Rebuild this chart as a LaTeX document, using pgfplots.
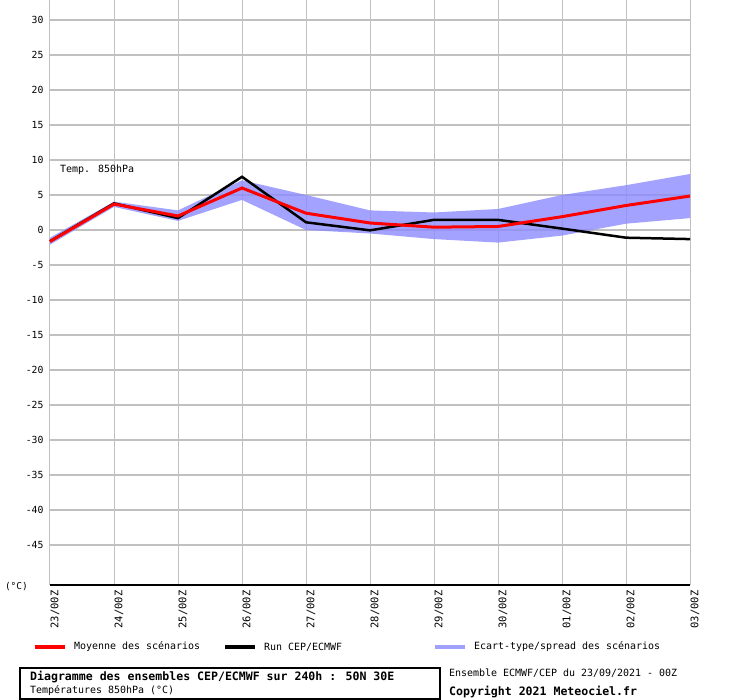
\documentclass[border=0pt]{standalone}
\usepackage{pgfplots}
\pgfplotsset{compat=1.18}
\usepgfplotslibrary{fillbetween}
\usepackage{fontspec}
\setmainfont{DejaVu Sans Mono}
\definecolor{gridgray}{RGB}{192,192,192}
\definecolor{zerogray}{RGB}{128,128,128}
\definecolor{bandblue}{RGB}{140,140,255}
\definecolor{legblue}{RGB}{160,160,255}
\begin{document}
\begin{tikzpicture}
\begin{axis}[
  at={(0,0)}, anchor=south west,
  scale only axis, width=640bp, height=585bp,
  xmin=0, xmax=10, ymin=-50.714, ymax=32.857,
  axis line style={draw=none},
  xtick={0,1,2,3,4,5,6,7,8,9,10},
  xticklabels={23/00Z,24/00Z,25/00Z,26/00Z,27/00Z,28/00Z,29/00Z,30/00Z,01/00Z,02/00Z,03/00Z},
  ytick={-45,-40,-35,-30,-25,-20,-15,-10,-5,0,5,10,15,20,25,30},
  yticklabels={-45,-40,-35,-30,-25,-20,-15,-10,-5,0,5,10,15,20,25,30},
  major tick length=0pt,
  grid=major,
  x grid style={gridgray, line width=1bp},
  y grid style={gridgray, line width=2bp},
  extra y ticks={0}, extra y tick labels={},
  extra y tick style={grid style={zerogray, line width=2bp}},
  tick label style={font=\fontsize{9.8}{10}\selectfont},
  xticklabel shift=5bp,
  xticklabel style={rotate=90, anchor=north east, inner sep=0.5pt, font=\fontsize{10.5}{11}\selectfont},
  yticklabel style={anchor=east, xshift=-3bp},
  clip=false,
]
\addplot[name path=up, draw=none] coordinates {
(0,-1.1) (1,4.05) (2,2.8) (3,7.1) (4,5.0) (5,2.8) (6,2.5) (7,3.0) (8,5.0) (9,6.4) (10,8.0)};
\addplot[name path=lo, draw=none] coordinates {
(0,-2.1) (1,3.3) (2,1.3) (3,4.3) (4,0.0) (5,-0.5) (6,-1.3) (7,-1.8) (8,-0.8) (9,0.9) (10,1.7)};
\addplot[fill=bandblue, fill opacity=0.8, draw=none] fill between[of=up and lo];
\addplot[black, line width=2.5bp] coordinates {
(0,-1.6) (1,3.8) (2,1.7) (3,7.6) (4,1.1) (5,-0.05) (6,1.45) (7,1.45) (8,0.2) (9,-1.1) (10,-1.3)};
\addplot[red, line width=3bp] coordinates {
(0,-1.65) (1,3.7) (2,2.0) (3,6.0) (4,2.4) (5,1.0) (6,0.4) (7,0.5) (8,1.9) (9,3.5) (10,4.85)};
\node[anchor=west, font=\fontsize{10}{12}\selectfont, inner sep=0pt] at (axis cs:0.156,8.64) {Temp. 850hPa};
\draw[black, line width=1.5bp] (rel axis cs:0,0) -- (rel axis cs:1,0);
\end{axis}
\begin{scope}[x=1bp,y=1bp]
\node[anchor=east, font=\fontsize{9.5}{10}\selectfont, inner sep=0pt] at (-22,-2) {(°C)};
% legend
\draw[red, line width=4bp] (-15,-62) -- (15,-62);
\node[anchor=west, inner sep=0pt, font=\fontsize{10}{12}\selectfont] at (24,-62) {Moyenne des scénarios};
\draw[black, line width=4bp] (175,-62) -- (205,-62);
\node[anchor=west, inner sep=0pt, font=\fontsize{10}{12}\selectfont] at (214,-62) {Run CEP/ECMWF};
\draw[legblue, line width=4bp] (385,-62) -- (415,-62);
\node[anchor=west, inner sep=0pt, font=\fontsize{10}{12}\selectfont] at (424,-62) {Ecart-type/spread des scénarios};
% info box
\draw[black, line width=1.2bp] (-30,-83) rectangle (390,-114);
\node[anchor=west, inner sep=0pt, font=\fontsize{11.6}{13}\selectfont\bfseries] at (-20,-92) {Diagramme des ensembles CEP/ECMWF sur 240h : 50N 30E};
\node[anchor=west, inner sep=0pt, font=\fontsize{10}{12}\selectfont] at (-20,-106) {Températures 850hPa (°C)};
\node[anchor=west, inner sep=0pt, font=\fontsize{10}{12}\selectfont] at (399,-88) {Ensemble ECMWF/CEP du 23/09/2021 - 00Z};
\node[anchor=west, inner sep=0pt, font=\fontsize{11.6}{13}\selectfont\bfseries] at (399,-107) {Copyright 2021 Meteociel.fr};
\pgfresetboundingbox
\useasboundingbox (-50,-115) rectangle (690,585);
\end{scope}
\end{tikzpicture}
\end{document}
